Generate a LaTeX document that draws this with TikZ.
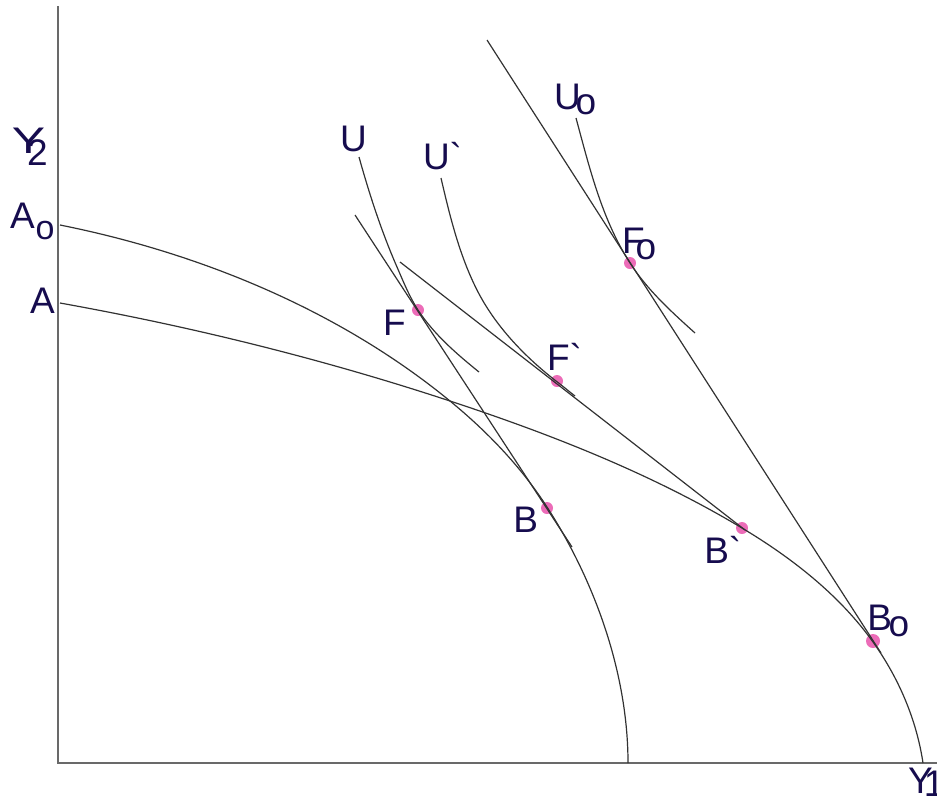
\documentclass[tikz,border=0pt]{standalone}
\usepackage{graphicx}
\font\labF="Liberation Sans" at 37pt
\font\subF="Liberation Sans" at 34pt
\definecolor{ink}{RGB}{22,12,78}
\definecolor{dotc}{RGB}{236,108,184}
\definecolor{crv}{RGB}{50,50,50}
\definecolor{axc}{RGB}{105,105,105}
\tikzset{
 lab/.style={anchor=base west, inner sep=0pt, outer sep=0pt, text=ink, font=\labF},
 dot/.style={circle, fill=dotc, draw=none, inner sep=0pt, minimum size=12pt},
 crvline/.style={draw=crv, line width=1.2pt},
 axisline/.style={draw=axc, line width=1.8pt}
}
\begin{document}
\begin{tikzpicture}[x=1pt,y=-1pt]
\useasboundingbox (0,0) rectangle (937,807);
% axes
\coordinate (ytop) at (58,6);
\coordinate (O) at (58,763);
\coordinate (xend) at (940,763);
\draw[axisline] (ytop) -- (O) -- (xend);
% dots
\node[dot] (dF) at (418,310) {};
\node[dot] (dFg) at (557,381) {};
\node[dot] (dF0) at (630,263) {};
\node[dot] (dB) at (547,508) {};
\node[dot] (dBg) at (742,528) {};
\node[dot, minimum size=14pt] (dB0) at (873,641) {};
% production frontier A0
\draw[crvline] (60,225) .. controls (200,253) and (339.5,310.3) .. (450,401)
  .. controls (487.1,431.4) and (521,466.7) .. (547,507)
  .. controls (595.2,581.8) and (628,674) .. (628,763);
% production frontier A
\draw[crvline] (60,303) .. controls (191.9,326.7) and (322.7,359) .. (450,401)
  .. controls (550.7,434.2) and (651.1,473.5) .. (742,528)
  .. controls (791.7,557.8) and (839.3,594.8) .. (873,642)
  .. controls (898.6,677.8) and (916.5,719.5) .. (923,763);
% indifference curve U
\draw[crvline] (359,157) .. controls (369.5,194.6) and (381.4,231.3) .. (397,267)
  .. controls (403.4,281.7) and (409.3,296.6) .. (418,310)
  .. controls (433.9,334.3) and (456.5,353.8) .. (479,372);
% indifference curve U`
\draw[crvline] (441,178) .. controls (449.8,216) and (459.4,255.2) .. (477,290)
  .. controls (495,325.7) and (524.4,356.4) .. (556,381)
  .. controls (564,387) and (569,391.5) .. (575,396);
% indifference curve U0
\draw[crvline] (576,118) .. controls (589.6,168.2) and (601.9,219.3) .. (630,263)
  .. controls (647.3,289.9) and (671.2,311.6) .. (695,333);
% price lines
\coordinate (l1s) at (355,215);
\coordinate (l1e) at (572,547);
\draw[crvline] (l1s) -- (l1e);
\coordinate (l2s) at (400,262);
\coordinate (l2e) at (745,530);
\draw[crvline] (l2s) -- (l2e);
\coordinate (l3s) at (487,40);
\coordinate (l3e) at (881,653);
\draw[crvline] (l3s) -- (l3e);
% labels
\node[lab] (Y2) at (12,153) {\scalebox{1.35}[1]{Y}\kern-18.3pt\raisebox{-12pt}{2}};
\node[lab] (A0) at (10,228) {A\kern1pt\raisebox{-11.5pt}{\subF o}};
\node[lab] (A) at (30,313) {A};
\node[lab] (U) at (340,151.5) {U};
\node[lab] (Ug) at (423,169.5) {U\char96};
\node[lab] (U0) at (554,109.5) {U\kern-5pt\raisebox{-5pt}{o}};
\node[lab] (F0) at (622,253) {F\kern-9pt\raisebox{-6.5pt}{o}};
\node[lab] (F) at (383,335) {F};
\node[lab] (Fg) at (547,370) {F\char96};
\node[lab] (B) at (513.3,532) {B};
\node[lab] (Bg) at (704.3,563) {B\char96};
\node[lab] (B0) at (867.3,630) {B\kern-3.3pt\raisebox{-6.5pt}{o}};
\node[lab] (Y1) at (908,793) {Y\kern-8.7pt\raisebox{-3pt}{1}};
\end{tikzpicture}
\end{document}
